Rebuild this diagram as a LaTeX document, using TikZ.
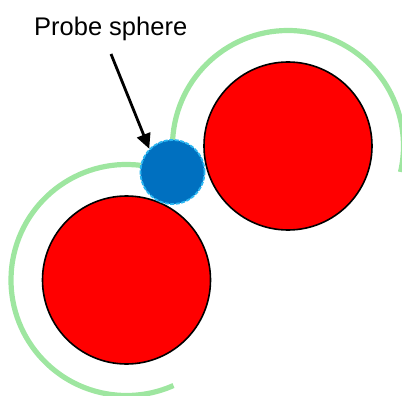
\documentclass[tikz,border=0pt]{standalone}
\usepackage{fontspec}
\setmainfont{Liberation Sans}
\usetikzlibrary{arrows.meta}
\definecolor{atomred}{HTML}{FF0000}
\definecolor{probeblue}{HTML}{0070C0}
\definecolor{probeedge}{HTML}{29B6F2}
\definecolor{arcgreen}{HTML}{9EE6A0}
\tikzset{
  atom/.style={circle, draw=black, line width=1.6pt, fill=atomred, minimum size=168pt, inner sep=0pt},
  probe/.style={circle, draw=probeedge, dashed, dash pattern=on 4pt off 1.5pt, line width=1.8pt, fill=probeblue, minimum size=64pt, inner sep=0pt},
  sas/.style={draw=arcgreen, line width=5.2pt},
  pointer/.style={draw=black, line width=2.8pt, -{Triangle[length=15pt,width=14pt]}},
  lbl/.style={font=\fontsize{25.5}{30}\selectfont, inner sep=0pt, anchor=base}
}
\begin{document}
\begin{tikzpicture}[x=1pt,y=-1pt]
\useasboundingbox (0,0) rectangle (402,396);
% solvent-accessible arcs (angles negated because y points down)
\draw[sas] (288,146) ++(-177:115.5) arc[start angle=-177, end angle=13, radius=115.5];
\draw[sas] (126.5,280) ++(-83:115.5) arc[start angle=-83, end angle=-294, radius=115.5];
% atoms
\node[atom] (a1) at (288,146) {};
\node[atom] (a2) at (126.5,280) {};
\node[probe] (p) at (172.5,172) {};
% label and arrow
\node[lbl] (t) at (110.7,35.5) {Probe sphere};
\coordinate (s) at (111,54);
\draw[pointer] (s) -- (p.north west);
\end{tikzpicture}
\end{document}
